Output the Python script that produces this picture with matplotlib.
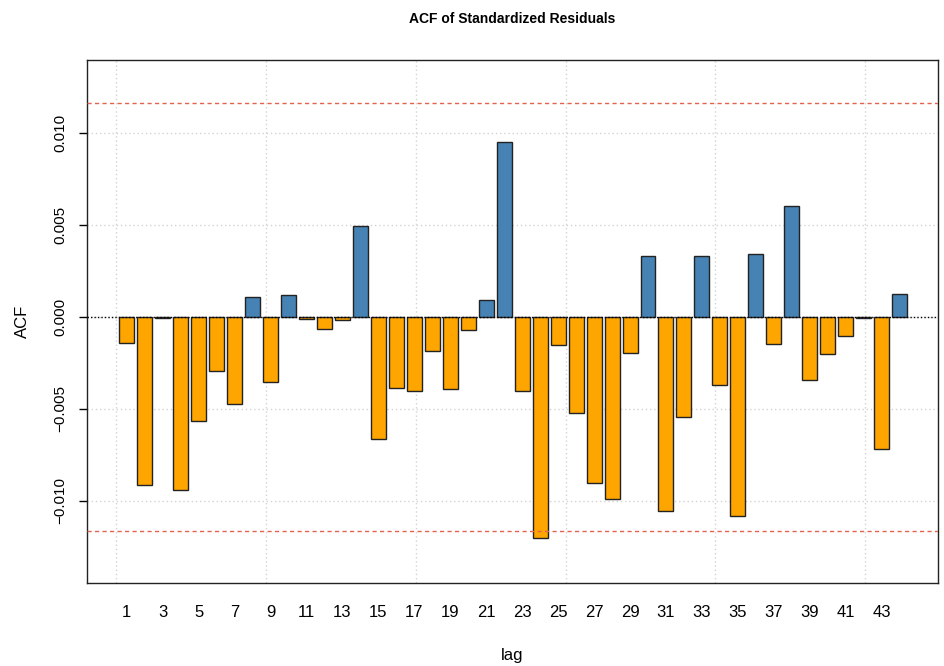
import matplotlib
matplotlib.use('Agg')
import matplotlib.pyplot as plt
import numpy as np

# ACF values for lags 1..44
lags = np.arange(1, 45)
acf = [-0.00140, -0.00916, -0.00007, -0.00940, -0.00567, -0.00296, -0.00473, 0.00111,
       -0.00354, 0.00122, -0.00013, -0.00065, -0.00018, 0.00496, -0.00665, -0.00385,
       -0.00403, -0.00187, -0.00393, -0.00071, 0.00093, 0.00956, -0.00402, -0.01203,
       -0.00153, -0.00525, -0.00905, -0.00994, -0.00198, 0.00333, -0.01056, -0.00543,
       0.00333, -0.00369, -0.01085, 0.00344, -0.00146, 0.00607, -0.00344, -0.00204,
       -0.00105, -0.00007, -0.00718, 0.00127]
conf_band = 0.01165
ytick_vals = [-0.010, -0.005, 0.0, 0.005, 0.010]
ytick_labels = ['\u22120.010', '\u22120.005', '0.000', '0.005', '0.010']

acf = np.array(acf)
fam = ['Liberation Sans', 'DejaVu Sans']
narrow = ['Liberation Sans Narrow', 'Liberation Sans', 'DejaVu Sans']

fig = plt.figure(figsize=(9.45, 6.66), dpi=100)
ax = fig.add_axes([0.0921, 0.1246, 0.9005, 0.7853])

# R barplot style positions: width 1, space 0.2
pos = 0.7 + 1.2 * (lags - 1)
colors = np.where(acf > 0, '#4682B4', '#FFA500')

# grid (R grid(): lightgray dotted)
for gx in np.arange(0, 51, 10):
    ax.axvline(gx, color='#D3D3D3', ls=(0, (1, 2)), lw=1, zorder=0)
for gy in ytick_vals:
    ax.axhline(gy, color='#D3D3D3', ls=(0, (1, 2)), lw=1, zorder=0)

ax.bar(pos, acf, width=1.0, color=colors, edgecolor='#222222', linewidth=1, zorder=2)
ax.axhline(0, color='black', ls=(0, (1, 1.5)), lw=1, zorder=3)
ax.axhline(conf_band, color='#E2644E', ls=(0, (3, 2.4)), lw=1, zorder=3)
ax.axhline(-conf_band, color='#E2644E', ls=(0, (3, 2.4)), lw=1, zorder=3)

ax.set_xlim(-1.95, 54.86)
ax.set_ylim(-0.01449, 0.0140)

ax.set_xticks(pos[::2])
ax.set_xticklabels([str(l) for l in lags[::2]], fontsize=12, family=fam)
ax.tick_params(axis='x', length=0, pad=16)
ax.set_yticks(ytick_vals)
ax.set_yticklabels(ytick_labels, fontsize=11, family=fam, rotation=90, va='center')
ax.tick_params(axis='y', length=6, width=1, pad=8)

for s in ax.spines.values():
    s.set_linewidth(1)
    s.set_color('#222222')

ax.set_xlabel('lag', fontsize=12, family=fam, labelpad=20)
ax.set_ylabel('ACF', fontsize=12, family=fam, labelpad=17)
fig.text(0.5423, 0.972, 'ACF of Standardized Residuals', ha='center', va='center',
         fontsize=10, fontweight='bold', family=narrow)

fig.savefig('out.png', dpi=100)
